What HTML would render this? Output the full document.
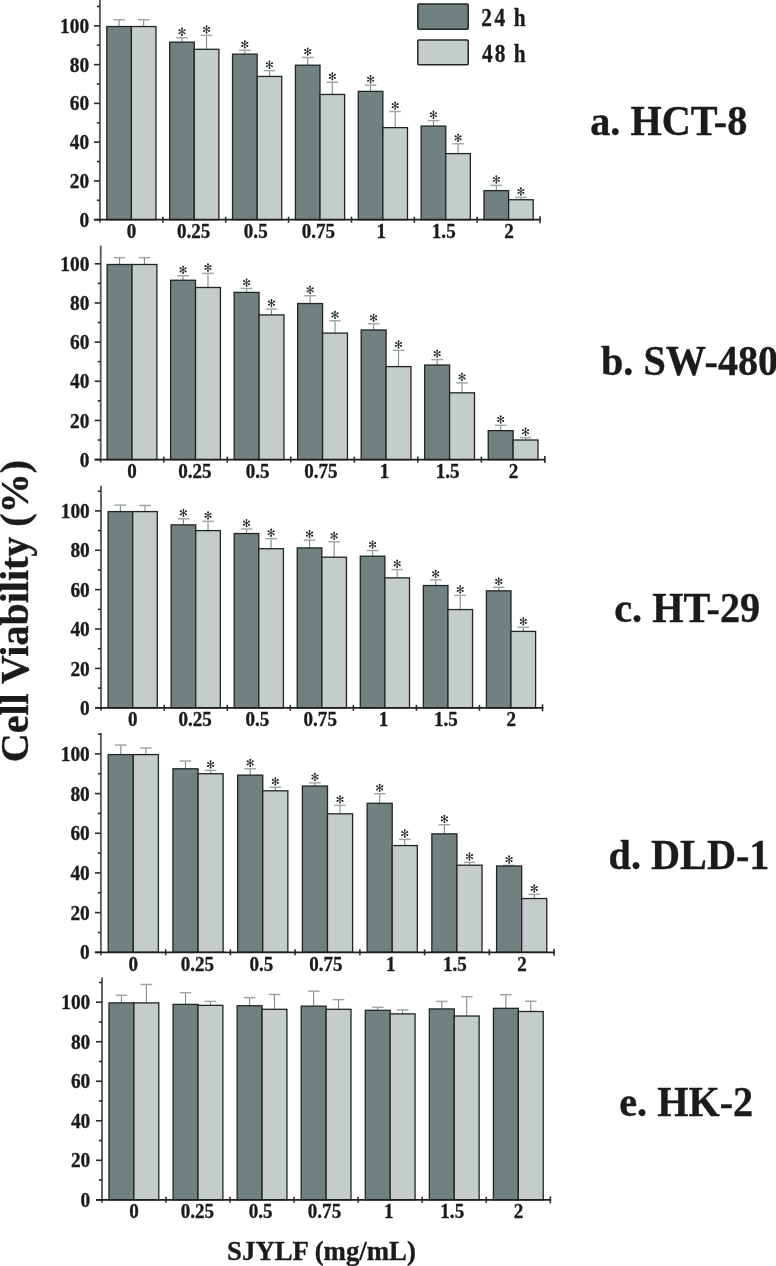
<!DOCTYPE html>
<html><head><meta charset="utf-8"><style>
html,body{margin:0;padding:0;background:#fff;width:776px;height:1266px;overflow:hidden}
svg{display:block;will-change:transform}
text{font-family:"Liberation Serif",serif;font-weight:bold;fill:#1b1b1b;stroke:#1b1b1b;stroke-width:0.35px}
.bar{stroke:#1f2626;stroke-width:1.3}
.leg{stroke:#1f2626;stroke-width:1.5}
.ev{stroke:#828a8a;stroke-width:1.1}
.ec{stroke:#a0a8a8;stroke-width:1.5}
.yax{stroke:#5a5e5e;stroke-width:1.9}
.xax{stroke:#1e1e1e;stroke-width:1.7}
.tk{stroke:#2a2a2a;stroke-width:1.6}
.yl{font-size:22px;text-anchor:end}
.xl{font-size:20.5px;text-anchor:middle}
.pl{font-size:40.2px}
.lt{font-size:25.7px}
.yt{font-size:40px}
.xt{font-size:26.8px}
.ast{font-family:"Liberation Serif",serif;font-weight:normal;font-size:20px;text-anchor:middle;fill:#2b2f2f}
</style></head><body>
<svg width="776" height="1266" viewBox="0 0 776 1266">
<defs><g id="ast"><path d="M0 -3.4V3.4M-2.75 -1.6L2.75 1.6M-2.75 1.6L2.75 -1.6" stroke="#333838" stroke-width="1" fill="none"/><g fill="#1e2222"><circle cx="0" cy="-3.2" r="0.95"/><circle cx="0" cy="3.2" r="0.95"/><circle cx="-2.6" cy="-1.6" r="0.95"/><circle cx="2.6" cy="-1.6" r="0.95"/><circle cx="-2.6" cy="1.6" r="0.95"/><circle cx="2.6" cy="1.6" r="0.95"/></g></g></defs>
<path d="M119.1 26.53V19.74" class="ev"/>
<path d="M113.3 19.74H124.9" class="ec"/>
<rect x="106.8" y="26.53" width="24.6" height="193.17" fill="#71817f" class="bar"/>
<path d="M143.7 26.53V19.74" class="ev"/>
<path d="M137.9 19.74H149.5" class="ec"/>
<rect x="131.4" y="26.53" width="24.6" height="193.17" fill="#c5cdcb" class="bar"/>
<path d="M181.97 42.13V37.67" class="ev"/>
<path d="M176.17 37.67H187.77" class="ec"/>
<rect x="169.67" y="42.13" width="24.6" height="177.57" fill="#71817f" class="bar"/>
<use href="#ast" x="181.97" y="31.77"/>
<path d="M206.57 49.31V35.35" class="ev"/>
<path d="M200.77 35.35H212.37" class="ec"/>
<rect x="194.27" y="49.31" width="24.6" height="170.39" fill="#c5cdcb" class="bar"/>
<use href="#ast" x="206.57" y="29.45"/>
<path d="M244.84 54.15V50.28" class="ev"/>
<path d="M239.04 50.28H250.64" class="ec"/>
<rect x="232.54" y="54.15" width="24.6" height="165.55" fill="#71817f" class="bar"/>
<use href="#ast" x="244.84" y="44.38"/>
<path d="M269.44 76.44V70.63" class="ev"/>
<path d="M263.64 70.63H275.24" class="ec"/>
<rect x="257.14" y="76.44" width="24.6" height="143.26" fill="#c5cdcb" class="bar"/>
<use href="#ast" x="269.44" y="64.73"/>
<path d="M307.71 65.2V57.45" class="ev"/>
<path d="M301.91 57.45H313.51" class="ec"/>
<rect x="295.41" y="65.2" width="24.6" height="154.5" fill="#71817f" class="bar"/>
<use href="#ast" x="307.71" y="51.55"/>
<path d="M332.31 94.47V82.26" class="ev"/>
<path d="M326.51 82.26H338.11" class="ec"/>
<rect x="320.01" y="94.47" width="24.6" height="125.23" fill="#c5cdcb" class="bar"/>
<use href="#ast" x="332.31" y="76.36"/>
<path d="M370.58 91.37V85.17" class="ev"/>
<path d="M364.78 85.17H376.38" class="ec"/>
<rect x="358.28" y="91.37" width="24.6" height="128.33" fill="#71817f" class="bar"/>
<use href="#ast" x="370.58" y="79.27"/>
<path d="M395.18 127.62V111.53" class="ev"/>
<path d="M389.38 111.53H400.98" class="ec"/>
<rect x="382.88" y="127.62" width="24.6" height="92.08" fill="#c5cdcb" class="bar"/>
<use href="#ast" x="395.18" y="105.63"/>
<path d="M433.45 126.07V120.64" class="ev"/>
<path d="M427.65 120.64H439.25" class="ec"/>
<rect x="421.15" y="126.07" width="24.6" height="93.63" fill="#71817f" class="bar"/>
<use href="#ast" x="433.45" y="114.74"/>
<path d="M458.05 153.6V143.71" class="ev"/>
<path d="M452.25 143.71H463.85" class="ec"/>
<rect x="445.75" y="153.6" width="24.6" height="66.1" fill="#c5cdcb" class="bar"/>
<use href="#ast" x="458.05" y="137.81"/>
<path d="M496.32 190.62V185.39" class="ev"/>
<path d="M490.52 185.39H502.12" class="ec"/>
<rect x="484.02" y="190.62" width="24.6" height="29.08" fill="#71817f" class="bar"/>
<use href="#ast" x="496.32" y="179.49"/>
<path d="M520.92 199.73V197.41" class="ev"/>
<path d="M515.12 197.41H526.72" class="ec"/>
<rect x="508.62" y="199.73" width="24.6" height="19.97" fill="#c5cdcb" class="bar"/>
<use href="#ast" x="520.92" y="191.51"/>
<path d="M99.9 -2V222.7" class="yax"/>
<path d="M93.9 219.7H99.9" class="tk"/>
<text class="yl" transform="translate(89.1,226.8) scale(0.88,1)">0</text>
<path d="M96.9 200.31H99.9" class="tk"/>
<path d="M93.9 180.93H99.9" class="tk"/>
<text class="yl" transform="translate(89.1,188.03) scale(0.88,1)">20</text>
<path d="M96.9 161.54H99.9" class="tk"/>
<path d="M93.9 142.16H99.9" class="tk"/>
<text class="yl" transform="translate(89.1,149.26) scale(0.88,1)">40</text>
<path d="M96.9 122.77H99.9" class="tk"/>
<path d="M93.9 103.39H99.9" class="tk"/>
<text class="yl" transform="translate(89.1,110.49) scale(0.88,1)">60</text>
<path d="M96.9 84H99.9" class="tk"/>
<path d="M93.9 64.62H99.9" class="tk"/>
<text class="yl" transform="translate(89.1,71.72) scale(0.88,1)">80</text>
<path d="M96.9 45.23H99.9" class="tk"/>
<path d="M93.9 25.85H99.9" class="tk"/>
<text class="yl" transform="translate(89.1,32.95) scale(0.88,1)">100</text>
<path d="M96.9 6.47H99.9" class="tk"/>
<path d="M93.9 219.7H540.85" class="xax"/>
<path d="M162.84 216.7V222.7" class="tk"/>
<text class="xl" transform="translate(131.4,238.3) scale(0.93,1)">0</text>
<path d="M225.7 216.7V222.7" class="tk"/>
<text class="xl" transform="translate(193.67,238.3) scale(0.93,1)">0.25</text>
<path d="M288.57 216.7V222.7" class="tk"/>
<text class="xl" transform="translate(255.74,238.3) scale(0.93,1)">0.5</text>
<path d="M351.44 216.7V222.7" class="tk"/>
<text class="xl" transform="translate(318.41,238.3) scale(0.93,1)">0.75</text>
<path d="M414.31 216.7V222.7" class="tk"/>
<text class="xl" transform="translate(381.38,238.3) scale(0.93,1)">1</text>
<path d="M477.18 216.7V222.7" class="tk"/>
<text class="xl" transform="translate(443.75,238.3) scale(0.93,1)">1.5</text>
<path d="M540.05 216.2V223.2" class="tk"/>
<text class="xl" transform="translate(508.92,238.3) scale(0.93,1)">2</text>
<text class="pl" transform="translate(590.2,134.7) scale(1,1.03)">a. HCT-8</text>
<path d="M119.55 264.49V257.63" class="ev"/>
<path d="M113.75 257.63H125.35" class="ec"/>
<rect x="107.1" y="264.49" width="24.9" height="195.11" fill="#71817f" class="bar"/>
<path d="M144.45 264.49V257.63" class="ev"/>
<path d="M138.65 257.63H150.25" class="ec"/>
<rect x="132" y="264.49" width="24.9" height="195.11" fill="#c5cdcb" class="bar"/>
<path d="M183.07 280.25V275.74" class="ev"/>
<path d="M177.27 275.74H188.87" class="ec"/>
<rect x="170.62" y="280.25" width="24.9" height="179.35" fill="#71817f" class="bar"/>
<use href="#ast" x="183.07" y="269.84"/>
<path d="M207.97 287.49V273.39" class="ev"/>
<path d="M202.17 273.39H213.77" class="ec"/>
<rect x="195.52" y="287.49" width="24.9" height="172.11" fill="#c5cdcb" class="bar"/>
<use href="#ast" x="207.97" y="267.49"/>
<path d="M246.59 292.39V288.47" class="ev"/>
<path d="M240.79 288.47H252.39" class="ec"/>
<rect x="234.14" y="292.39" width="24.9" height="167.21" fill="#71817f" class="bar"/>
<use href="#ast" x="246.59" y="282.57"/>
<path d="M271.49 314.9V309.03" class="ev"/>
<path d="M265.69 309.03H277.29" class="ec"/>
<rect x="259.04" y="314.9" width="24.9" height="144.7" fill="#c5cdcb" class="bar"/>
<use href="#ast" x="271.49" y="303.13"/>
<path d="M310.11 303.55V295.72" class="ev"/>
<path d="M304.31 295.72H315.91" class="ec"/>
<rect x="297.66" y="303.55" width="24.9" height="156.05" fill="#71817f" class="bar"/>
<use href="#ast" x="310.11" y="289.82"/>
<path d="M335.01 333.11V320.78" class="ev"/>
<path d="M329.21 320.78H340.81" class="ec"/>
<rect x="322.56" y="333.11" width="24.9" height="126.49" fill="#c5cdcb" class="bar"/>
<use href="#ast" x="335.01" y="314.88"/>
<path d="M373.63 329.98V323.71" class="ev"/>
<path d="M367.83 323.71H379.43" class="ec"/>
<rect x="361.18" y="329.98" width="24.9" height="129.62" fill="#71817f" class="bar"/>
<use href="#ast" x="373.63" y="317.81"/>
<path d="M398.53 366.6V350.34" class="ev"/>
<path d="M392.73 350.34H404.33" class="ec"/>
<rect x="386.08" y="366.6" width="24.9" height="93" fill="#c5cdcb" class="bar"/>
<use href="#ast" x="398.53" y="344.44"/>
<path d="M437.15 365.03V359.55" class="ev"/>
<path d="M431.35 359.55H442.95" class="ec"/>
<rect x="424.7" y="365.03" width="24.9" height="94.57" fill="#71817f" class="bar"/>
<use href="#ast" x="437.15" y="353.65"/>
<path d="M462.05 392.83V382.85" class="ev"/>
<path d="M456.25 382.85H467.85" class="ec"/>
<rect x="449.6" y="392.83" width="24.9" height="66.77" fill="#c5cdcb" class="bar"/>
<use href="#ast" x="462.05" y="376.95"/>
<path d="M500.67 430.62V425.33" class="ev"/>
<path d="M494.87 425.33H506.47" class="ec"/>
<rect x="488.22" y="430.62" width="24.9" height="28.98" fill="#71817f" class="bar"/>
<use href="#ast" x="500.67" y="419.44"/>
<path d="M525.57 440.02V437.67" class="ev"/>
<path d="M519.77 437.67H531.37" class="ec"/>
<rect x="513.12" y="440.02" width="24.9" height="19.58" fill="#c5cdcb" class="bar"/>
<use href="#ast" x="525.57" y="431.77"/>
<path d="M100.7 245.5V462.6" class="yax"/>
<path d="M94.7 459.6H100.7" class="tk"/>
<text class="yl" transform="translate(89.4,466.7) scale(0.88,1)">0</text>
<path d="M97.7 440.02H100.7" class="tk"/>
<path d="M94.7 420.44H100.7" class="tk"/>
<text class="yl" transform="translate(89.4,427.54) scale(0.88,1)">20</text>
<path d="M97.7 400.86H100.7" class="tk"/>
<path d="M94.7 381.28H100.7" class="tk"/>
<text class="yl" transform="translate(89.4,388.38) scale(0.88,1)">40</text>
<path d="M97.7 361.7H100.7" class="tk"/>
<path d="M94.7 342.12H100.7" class="tk"/>
<text class="yl" transform="translate(89.4,349.22) scale(0.88,1)">60</text>
<path d="M97.7 322.54H100.7" class="tk"/>
<path d="M94.7 302.96H100.7" class="tk"/>
<text class="yl" transform="translate(89.4,310.06) scale(0.88,1)">80</text>
<path d="M97.7 283.38H100.7" class="tk"/>
<path d="M94.7 263.8H100.7" class="tk"/>
<text class="yl" transform="translate(89.4,270.9) scale(0.88,1)">100</text>
<path d="M94.7 459.6H545.68" class="xax"/>
<path d="M163.76 456.6V462.6" class="tk"/>
<text class="xl" transform="translate(132,478.2) scale(0.93,1)">0</text>
<path d="M227.28 456.6V462.6" class="tk"/>
<text class="xl" transform="translate(194.92,478.2) scale(0.93,1)">0.25</text>
<path d="M290.8 456.6V462.6" class="tk"/>
<text class="xl" transform="translate(257.64,478.2) scale(0.93,1)">0.5</text>
<path d="M354.32 456.6V462.6" class="tk"/>
<text class="xl" transform="translate(320.96,478.2) scale(0.93,1)">0.75</text>
<path d="M417.84 456.6V462.6" class="tk"/>
<text class="xl" transform="translate(384.58,478.2) scale(0.93,1)">1</text>
<path d="M481.36 456.6V462.6" class="tk"/>
<text class="xl" transform="translate(447.6,478.2) scale(0.93,1)">1.5</text>
<path d="M544.88 456.1V463.1" class="tk"/>
<text class="xl" transform="translate(513.42,478.2) scale(0.93,1)">2</text>
<text class="pl" transform="translate(601,375) scale(1,1.03)">b. SW-480</text>
<path d="M120.4 511.59V505.09" class="ev"/>
<path d="M114.6 505.09H126.2" class="ec"/>
<rect x="108.1" y="511.59" width="24.6" height="196.21" fill="#71817f" class="bar"/>
<path d="M145 511.59V505.49" class="ev"/>
<path d="M139.2 505.49H150.8" class="ec"/>
<rect x="132.7" y="511.59" width="24.6" height="196.21" fill="#c5cdcb" class="bar"/>
<path d="M183.45 524.88V518.78" class="ev"/>
<path d="M177.65 518.78H189.25" class="ec"/>
<rect x="171.15" y="524.88" width="24.6" height="182.92" fill="#71817f" class="bar"/>
<use href="#ast" x="183.45" y="512.88"/>
<path d="M208.05 530.59V521.34" class="ev"/>
<path d="M202.25 521.34H213.85" class="ec"/>
<rect x="195.75" y="530.59" width="24.6" height="177.21" fill="#c5cdcb" class="bar"/>
<use href="#ast" x="208.05" y="515.44"/>
<path d="M246.5 533.54V529.01" class="ev"/>
<path d="M240.7 529.01H252.3" class="ec"/>
<rect x="234.2" y="533.54" width="24.6" height="174.26" fill="#71817f" class="bar"/>
<use href="#ast" x="246.5" y="523.11"/>
<path d="M271.1 548.7V538.66" class="ev"/>
<path d="M265.3 538.66H276.9" class="ec"/>
<rect x="258.8" y="548.7" width="24.6" height="159.1" fill="#c5cdcb" class="bar"/>
<use href="#ast" x="271.1" y="532.76"/>
<path d="M309.55 547.92V540.04" class="ev"/>
<path d="M303.75 540.04H315.35" class="ec"/>
<rect x="297.25" y="547.92" width="24.6" height="159.88" fill="#71817f" class="bar"/>
<use href="#ast" x="309.55" y="534.14"/>
<path d="M334.15 557.17V541.81" class="ev"/>
<path d="M328.35 541.81H339.95" class="ec"/>
<rect x="321.85" y="557.17" width="24.6" height="150.63" fill="#c5cdcb" class="bar"/>
<use href="#ast" x="334.15" y="535.91"/>
<path d="M372.6 556.19V550.48" class="ev"/>
<path d="M366.8 550.48H378.4" class="ec"/>
<rect x="360.3" y="556.19" width="24.6" height="151.61" fill="#71817f" class="bar"/>
<use href="#ast" x="372.6" y="544.58"/>
<path d="M397.2 577.85V569.58" class="ev"/>
<path d="M391.4 569.58H403" class="ec"/>
<rect x="384.9" y="577.85" width="24.6" height="129.95" fill="#c5cdcb" class="bar"/>
<use href="#ast" x="397.2" y="563.68"/>
<path d="M435.65 585.53V579.81" class="ev"/>
<path d="M429.85 579.81H441.45" class="ec"/>
<rect x="423.35" y="585.53" width="24.6" height="122.27" fill="#71817f" class="bar"/>
<use href="#ast" x="435.65" y="573.91"/>
<path d="M460.25 609.55V595.37" class="ev"/>
<path d="M454.45 595.37H466.05" class="ec"/>
<rect x="447.95" y="609.55" width="24.6" height="98.25" fill="#c5cdcb" class="bar"/>
<use href="#ast" x="460.25" y="589.47"/>
<path d="M498.7 590.84V587.3" class="ev"/>
<path d="M492.9 587.3H504.5" class="ec"/>
<rect x="486.4" y="590.84" width="24.6" height="116.96" fill="#71817f" class="bar"/>
<use href="#ast" x="498.7" y="581.4"/>
<path d="M523.3 631.4V627.27" class="ev"/>
<path d="M517.5 627.27H529.1" class="ec"/>
<rect x="511" y="631.4" width="24.6" height="76.4" fill="#c5cdcb" class="bar"/>
<use href="#ast" x="523.3" y="621.37"/>
<path d="M101 485.7V710.8" class="yax"/>
<path d="M95 707.8H101" class="tk"/>
<text class="yl" transform="translate(89.8,714.9) scale(0.88,1)">0</text>
<path d="M98 688.11H101" class="tk"/>
<path d="M95 668.42H101" class="tk"/>
<text class="yl" transform="translate(89.8,675.52) scale(0.88,1)">20</text>
<path d="M98 648.73H101" class="tk"/>
<path d="M95 629.04H101" class="tk"/>
<text class="yl" transform="translate(89.8,636.14) scale(0.88,1)">40</text>
<path d="M98 609.35H101" class="tk"/>
<path d="M95 589.66H101" class="tk"/>
<text class="yl" transform="translate(89.8,596.76) scale(0.88,1)">60</text>
<path d="M98 569.97H101" class="tk"/>
<path d="M95 550.28H101" class="tk"/>
<text class="yl" transform="translate(89.8,557.38) scale(0.88,1)">80</text>
<path d="M98 530.59H101" class="tk"/>
<path d="M95 510.9H101" class="tk"/>
<text class="yl" transform="translate(89.8,518) scale(0.88,1)">100</text>
<path d="M98 491.21H101" class="tk"/>
<path d="M95 707.8H543.32" class="xax"/>
<path d="M164.22 704.8V710.8" class="tk"/>
<text class="xl" transform="translate(132.7,726.4) scale(0.93,1)">0</text>
<path d="M227.27 704.8V710.8" class="tk"/>
<text class="xl" transform="translate(195.15,726.4) scale(0.93,1)">0.25</text>
<path d="M290.32 704.8V710.8" class="tk"/>
<text class="xl" transform="translate(257.4,726.4) scale(0.93,1)">0.5</text>
<path d="M353.38 704.8V710.8" class="tk"/>
<text class="xl" transform="translate(320.25,726.4) scale(0.93,1)">0.75</text>
<path d="M416.42 704.8V710.8" class="tk"/>
<text class="xl" transform="translate(383.4,726.4) scale(0.93,1)">1</text>
<path d="M479.47 704.8V710.8" class="tk"/>
<text class="xl" transform="translate(445.95,726.4) scale(0.93,1)">1.5</text>
<path d="M542.52 704.3V711.3" class="tk"/>
<text class="xl" transform="translate(511.3,726.4) scale(0.93,1)">2</text>
<text class="pl" transform="translate(614.2,621.7) scale(1,1.03)">c. HT-29</text>
<path d="M120.75 754.59V745.07" class="ev"/>
<path d="M114.95 745.07H126.55" class="ec"/>
<rect x="108.2" y="754.59" width="25.1" height="197.71" fill="#71817f" class="bar"/>
<path d="M145.85 754.59V748.05" class="ev"/>
<path d="M140.05 748.05H151.65" class="ec"/>
<rect x="133.3" y="754.59" width="25.1" height="197.71" fill="#c5cdcb" class="bar"/>
<path d="M185.48 768.78V761.04" class="ev"/>
<path d="M179.68 761.04H191.28" class="ec"/>
<rect x="172.93" y="768.78" width="25.1" height="183.52" fill="#71817f" class="bar"/>
<path d="M210.58 773.74V770.37" class="ev"/>
<path d="M204.78 770.37H216.38" class="ec"/>
<rect x="198.03" y="773.74" width="25.1" height="178.56" fill="#c5cdcb" class="bar"/>
<use href="#ast" x="210.58" y="764.47"/>
<path d="M250.21 775.13V768.78" class="ev"/>
<path d="M244.41 768.78H256.01" class="ec"/>
<rect x="237.66" y="775.13" width="25.1" height="177.17" fill="#71817f" class="bar"/>
<use href="#ast" x="250.21" y="762.88"/>
<path d="M275.31 790.8V787.23" class="ev"/>
<path d="M269.51 787.23H281.11" class="ec"/>
<rect x="262.76" y="790.8" width="25.1" height="161.5" fill="#c5cdcb" class="bar"/>
<use href="#ast" x="275.31" y="781.33"/>
<path d="M314.94 786.04V782.87" class="ev"/>
<path d="M309.14 782.87H320.74" class="ec"/>
<rect x="302.39" y="786.04" width="25.1" height="166.26" fill="#71817f" class="bar"/>
<use href="#ast" x="314.94" y="776.97"/>
<path d="M340.04 813.82V805.29" class="ev"/>
<path d="M334.24 805.29H345.84" class="ec"/>
<rect x="327.49" y="813.82" width="25.1" height="138.48" fill="#c5cdcb" class="bar"/>
<use href="#ast" x="340.04" y="799.39"/>
<path d="M379.67 803.3V793.78" class="ev"/>
<path d="M373.87 793.78H385.47" class="ec"/>
<rect x="367.12" y="803.3" width="25.1" height="149" fill="#71817f" class="bar"/>
<use href="#ast" x="379.67" y="787.88"/>
<path d="M404.77 845.56V839.41" class="ev"/>
<path d="M398.97 839.41H410.57" class="ec"/>
<rect x="392.22" y="845.56" width="25.1" height="106.74" fill="#c5cdcb" class="bar"/>
<use href="#ast" x="404.77" y="833.51"/>
<path d="M444.4 833.86V824.73" class="ev"/>
<path d="M438.6 824.73H450.2" class="ec"/>
<rect x="431.85" y="833.86" width="25.1" height="118.44" fill="#71817f" class="bar"/>
<use href="#ast" x="444.4" y="818.83"/>
<path d="M469.5 865.2V862.42" class="ev"/>
<path d="M463.7 862.42H475.3" class="ec"/>
<rect x="456.95" y="865.2" width="25.1" height="87.1" fill="#c5cdcb" class="bar"/>
<use href="#ast" x="469.5" y="856.52"/>
<path d="M509.13 866V865.4" class="ev"/>
<path d="M503.33 865.4H514.93" class="ec"/>
<rect x="496.58" y="866" width="25.1" height="86.3" fill="#71817f" class="bar"/>
<use href="#ast" x="509.13" y="859.5"/>
<path d="M534.23 898.53V894.37" class="ev"/>
<path d="M528.43 894.37H540.03" class="ec"/>
<rect x="521.68" y="898.53" width="25.1" height="53.77" fill="#c5cdcb" class="bar"/>
<use href="#ast" x="534.23" y="888.47"/>
<path d="M100.9 733V955.3" class="yax"/>
<path d="M94.9 952.3H100.9" class="tk"/>
<text class="yl" transform="translate(89.8,959.4) scale(0.88,1)">0</text>
<path d="M97.9 932.46H100.9" class="tk"/>
<path d="M94.9 912.62H100.9" class="tk"/>
<text class="yl" transform="translate(89.8,919.72) scale(0.88,1)">20</text>
<path d="M97.9 892.78H100.9" class="tk"/>
<path d="M94.9 872.94H100.9" class="tk"/>
<text class="yl" transform="translate(89.8,880.04) scale(0.88,1)">40</text>
<path d="M97.9 853.1H100.9" class="tk"/>
<path d="M94.9 833.26H100.9" class="tk"/>
<text class="yl" transform="translate(89.8,840.36) scale(0.88,1)">60</text>
<path d="M97.9 813.42H100.9" class="tk"/>
<path d="M94.9 793.58H100.9" class="tk"/>
<text class="yl" transform="translate(89.8,800.68) scale(0.88,1)">80</text>
<path d="M97.9 773.74H100.9" class="tk"/>
<path d="M94.9 753.9H100.9" class="tk"/>
<text class="yl" transform="translate(89.8,761) scale(0.88,1)">100</text>
<path d="M97.9 734.06H100.9" class="tk"/>
<path d="M94.9 952.3H554.85" class="xax"/>
<path d="M165.67 949.3V955.3" class="tk"/>
<text class="xl" transform="translate(133.3,970.9) scale(0.93,1)">0</text>
<path d="M230.4 949.3V955.3" class="tk"/>
<text class="xl" transform="translate(197.43,970.9) scale(0.93,1)">0.25</text>
<path d="M295.12 949.3V955.3" class="tk"/>
<text class="xl" transform="translate(261.36,970.9) scale(0.93,1)">0.5</text>
<path d="M359.86 949.3V955.3" class="tk"/>
<text class="xl" transform="translate(325.89,970.9) scale(0.93,1)">0.75</text>
<path d="M424.59 949.3V955.3" class="tk"/>
<text class="xl" transform="translate(390.72,970.9) scale(0.93,1)">1</text>
<path d="M489.32 949.3V955.3" class="tk"/>
<text class="xl" transform="translate(454.95,970.9) scale(0.93,1)">1.5</text>
<path d="M554.05 948.8V955.8" class="tk"/>
<text class="xl" transform="translate(521.98,970.9) scale(0.93,1)">2</text>
<text class="pl" transform="translate(608.6,868.5) scale(1,1.03)">d. DLD-1</text>
<path d="M121.45 1002.89V995.19" class="ev"/>
<path d="M115.65 995.19H127.25" class="ec"/>
<rect x="109" y="1002.89" width="24.9" height="196.91" fill="#71817f" class="bar"/>
<path d="M146.35 1002.89V984.51" class="ev"/>
<path d="M140.55 984.51H152.15" class="ec"/>
<rect x="133.9" y="1002.89" width="24.9" height="196.91" fill="#c5cdcb" class="bar"/>
<path d="M185.52 1004.37V992.72" class="ev"/>
<path d="M179.72 992.72H191.32" class="ec"/>
<rect x="173.07" y="1004.37" width="24.9" height="195.43" fill="#71817f" class="bar"/>
<path d="M210.42 1005.36V1001.41" class="ev"/>
<path d="M204.62 1001.41H216.22" class="ec"/>
<rect x="197.97" y="1005.36" width="24.9" height="194.44" fill="#c5cdcb" class="bar"/>
<path d="M249.59 1005.76V997.66" class="ev"/>
<path d="M243.79 997.66H255.39" class="ec"/>
<rect x="237.14" y="1005.76" width="24.9" height="194.04" fill="#71817f" class="bar"/>
<path d="M274.49 1009.31V994.49" class="ev"/>
<path d="M268.69 994.49H280.29" class="ec"/>
<rect x="262.04" y="1009.31" width="24.9" height="190.49" fill="#c5cdcb" class="bar"/>
<path d="M313.66 1006.15V991.13" class="ev"/>
<path d="M307.86 991.13H319.46" class="ec"/>
<rect x="301.21" y="1006.15" width="24.9" height="193.65" fill="#71817f" class="bar"/>
<path d="M338.56 1009.31V999.63" class="ev"/>
<path d="M332.76 999.63H344.36" class="ec"/>
<rect x="326.11" y="1009.31" width="24.9" height="190.49" fill="#c5cdcb" class="bar"/>
<path d="M377.73 1010.3V1007.34" class="ev"/>
<path d="M371.93 1007.34H383.53" class="ec"/>
<rect x="365.28" y="1010.3" width="24.9" height="189.5" fill="#71817f" class="bar"/>
<path d="M402.63 1013.86V1009.91" class="ev"/>
<path d="M396.83 1009.91H408.43" class="ec"/>
<rect x="390.18" y="1013.86" width="24.9" height="185.94" fill="#c5cdcb" class="bar"/>
<path d="M441.8 1008.92V1001.41" class="ev"/>
<path d="M436 1001.41H447.6" class="ec"/>
<rect x="429.35" y="1008.92" width="24.9" height="190.88" fill="#71817f" class="bar"/>
<path d="M466.7 1016.03V996.67" class="ev"/>
<path d="M460.9 996.67H472.5" class="ec"/>
<rect x="454.25" y="1016.03" width="24.9" height="183.77" fill="#c5cdcb" class="bar"/>
<path d="M505.87 1008.33V994.69" class="ev"/>
<path d="M500.07 994.69H511.67" class="ec"/>
<rect x="493.42" y="1008.33" width="24.9" height="191.47" fill="#71817f" class="bar"/>
<path d="M530.77 1011.49V1001.21" class="ev"/>
<path d="M524.97 1001.21H536.57" class="ec"/>
<rect x="518.32" y="1011.49" width="24.9" height="188.31" fill="#c5cdcb" class="bar"/>
<path d="M102 977.4V1202.8" class="yax"/>
<path d="M96 1199.8H102" class="tk"/>
<text class="yl" transform="translate(90.3,1206.9) scale(0.88,1)">0</text>
<path d="M99 1180.04H102" class="tk"/>
<path d="M96 1160.28H102" class="tk"/>
<text class="yl" transform="translate(90.3,1167.38) scale(0.88,1)">20</text>
<path d="M99 1140.52H102" class="tk"/>
<path d="M96 1120.76H102" class="tk"/>
<text class="yl" transform="translate(90.3,1127.86) scale(0.88,1)">40</text>
<path d="M99 1101H102" class="tk"/>
<path d="M96 1081.24H102" class="tk"/>
<text class="yl" transform="translate(90.3,1088.34) scale(0.88,1)">60</text>
<path d="M99 1061.48H102" class="tk"/>
<path d="M96 1041.72H102" class="tk"/>
<text class="yl" transform="translate(90.3,1048.82) scale(0.88,1)">80</text>
<path d="M99 1021.96H102" class="tk"/>
<path d="M96 1002.2H102" class="tk"/>
<text class="yl" transform="translate(90.3,1009.3) scale(0.88,1)">100</text>
<path d="M99 982.44H102" class="tk"/>
<path d="M96 1199.8H551.15" class="xax"/>
<path d="M165.94 1196.8V1202.8" class="tk"/>
<text class="xl" transform="translate(133.9,1218.4) scale(0.93,1)">0</text>
<path d="M230 1196.8V1202.8" class="tk"/>
<text class="xl" transform="translate(197.37,1218.4) scale(0.93,1)">0.25</text>
<path d="M294.07 1196.8V1202.8" class="tk"/>
<text class="xl" transform="translate(260.64,1218.4) scale(0.93,1)">0.5</text>
<path d="M358.14 1196.8V1202.8" class="tk"/>
<text class="xl" transform="translate(324.51,1218.4) scale(0.93,1)">0.75</text>
<path d="M422.21 1196.8V1202.8" class="tk"/>
<text class="xl" transform="translate(388.68,1218.4) scale(0.93,1)">1</text>
<path d="M486.28 1196.8V1202.8" class="tk"/>
<text class="xl" transform="translate(452.25,1218.4) scale(0.93,1)">1.5</text>
<path d="M550.35 1196.3V1203.3" class="tk"/>
<text class="xl" transform="translate(518.62,1218.4) scale(0.93,1)">2</text>
<text class="pl" transform="translate(619.2,1115.6) scale(1,1.03)">e. HK-2</text>
<rect x="417.8" y="3.9" width="50.4" height="25.3" rx="1" fill="#71817f" class="leg"/>
<rect x="417.8" y="39.9" width="50.4" height="24.9" rx="1" fill="#c5cdcb" class="leg"/>
<text class="lt" transform="translate(481.25,25.9) scale(0.83,1)">2</text>
<text class="lt" transform="translate(494.5,25.9) scale(0.83,1)">4</text>
<text class="lt" transform="translate(513.7,25.9) scale(0.83,1)">h</text>
<text class="lt" transform="translate(481.9,61.9) scale(0.83,1)">4</text>
<text class="lt" transform="translate(494.66,61.9) scale(0.83,1)">8</text>
<text class="lt" transform="translate(513.7,61.9) scale(0.83,1)">h</text>
<text class="yt" transform="translate(27.5,762.2) rotate(-90)">Cell Viability (%)</text>
<text x="227.1" y="1260.3" class="xt">SJYLF (mg/mL)</text>
</svg>
</body></html>
